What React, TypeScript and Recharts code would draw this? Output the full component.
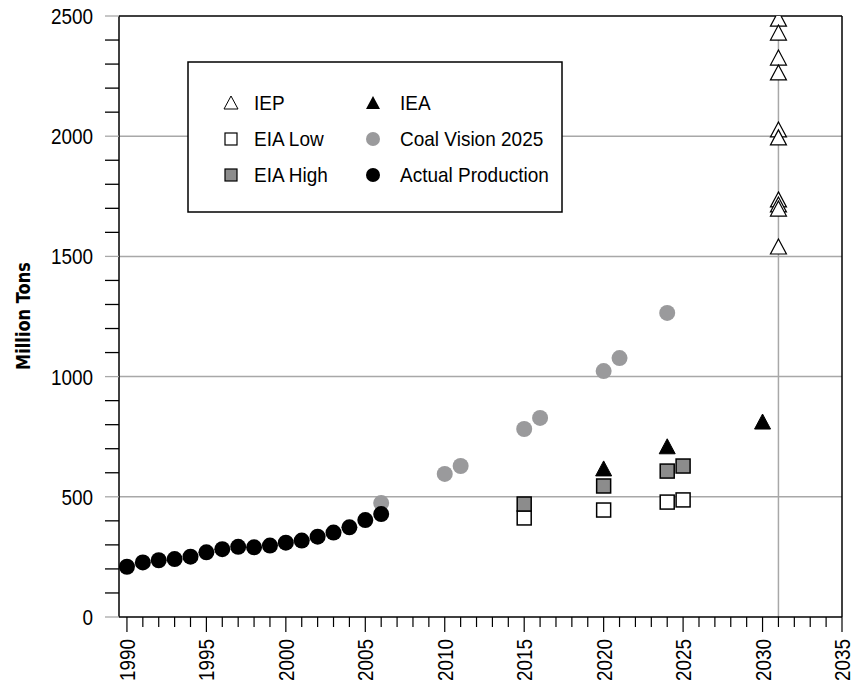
import React from 'react';
import { ScatterChart, Scatter, XAxis, YAxis, ReferenceLine } from 'recharts';

const NUM_FONT = "'Liberation Sans', Arial, sans-serif";
const TITLE_FONT = "'DejaVu Sans', sans-serif";

const iepYears = [2031, 2031, 2031, 2031, 2031, 2031, 2031, 2031, 2031, 2031];
const iepValues = [2487, 2429, 2325, 2263, 2026, 1993, 1735, 1714, 1697, 1539];
const ieaYears = [2020, 2024, 2030];
const ieaValues = [616, 708, 811];
const eiaLowYears = [2015, 2020, 2024, 2025];
const eiaLowValues = [412, 445, 478, 487];
const eiaHighYears = [2015, 2020, 2024, 2025];
const eiaHighValues = [470, 545, 607, 628];
const coalVisionYears = [2006, 2010, 2011, 2015, 2016, 2020, 2021, 2024];
const coalVisionValues = [474, 595, 628, 782, 828, 1023, 1077, 1265];
const actualYears = [1990, 1991, 1992, 1993, 1994, 1995, 1996, 1997, 1998, 1999, 2000, 2001, 2002, 2003, 2004, 2005, 2006];
const actualValues = [209, 227, 236, 241, 251, 269, 282, 292, 290, 297, 309, 318, 334, 351, 373, 403, 428];

const xTicks: number[] = [];
for (let yr = 1990; yr <= 2035; yr++) xTicks.push(yr);
const yTicks: number[] = [];
for (let v = 0; v <= 2500; v += 100) yTicks.push(v);
const gridValues = [500, 1000, 1500, 2000];

const zip = (xs: number[], ys: number[]) => xs.map((x, i) => ({ x, y: ys[i] }));

const GRID = '#a8a8a8';

const OpenTriangle = (p: any) => (
  <path d={`M${p.cx},${p.cy - 8}L${p.cx + 8},${p.cy + 7}L${p.cx - 8},${p.cy + 7}Z`} fill="#fff" stroke="#000" strokeWidth={1.2} />
);
const FilledTriangle = (p: any) => (
  <path d={`M${p.cx},${p.cy - 8}L${p.cx + 8},${p.cy + 7}L${p.cx - 8},${p.cy + 7}Z`} fill="#000" stroke="#000" strokeWidth={1} />
);
const WhiteSquare = (p: any) => (
  <rect x={p.cx - 7} y={p.cy - 7} width={14} height={14} fill="#fff" stroke="#000" strokeWidth={1.5} />
);
const GraySquare = (p: any) => (
  <rect x={p.cx - 7} y={p.cy - 7} width={14} height={14} fill="#8c8c8c" stroke="#000" strokeWidth={1.5} />
);
const GrayCircle = (p: any) => <circle cx={p.cx} cy={p.cy} r={8} fill="#9a9a9c" />;
const BlackCircle = (p: any) => <circle cx={p.cx} cy={p.cy} r={8} fill="#000" />;

const XTick = (props: any) => {
  const { x, y, payload } = props;
  const v = payload.value;
  const major = v % 5 === 0;
  const ty = y + 22;
  return (
    <g>
      <line x1={x} y1={y} x2={x} y2={y + (major ? 15 : 10)} stroke="#000" strokeWidth={1.2} />
      {major && (
        <text x={0} y={0} transform={`translate(${x},${ty}) rotate(-90) scale(0.86,1)`} textAnchor="end"
          dominantBaseline="central" fontFamily={NUM_FONT} fontSize={22} fill="#000">
          {v}
        </text>
      )}
    </g>
  );
};

const YTick = (props: any) => {
  const { x, y, payload } = props;
  const v = payload.value;
  const major = v % 500 === 0;
  return (
    <g>
      <line x1={x - 14} y1={y} x2={x} y2={y} stroke={major ? GRID : '#000'} strokeWidth={1.3} />
      {major && (
        <text x={0} y={0} transform={`translate(${x - 26},${y}) scale(0.86,1)`} textAnchor="end"
          dominantBaseline="central" fontFamily={NUM_FONT} fontSize={22} fill="#000">
          {v}
        </text>
      )}
    </g>
  );
};

const YLabel = () => (
  <text x={0} y={0} transform="translate(23,316) rotate(-90) scale(0.81,1)" textAnchor="middle"
    dominantBaseline="central" fontFamily={TITLE_FONT} fontSize={20} fontWeight="bold" fill="#000">
    Million Tons
  </text>
);

const legendItems = [
  { label: 'IEP', col: 0, row: 0, icon: 'openTri' },
  { label: 'EIA Low', col: 0, row: 1, icon: 'whiteSq' },
  { label: 'EIA High', col: 0, row: 2, icon: 'graySq' },
  { label: 'IEA', col: 1, row: 0, icon: 'fillTri' },
  { label: 'Coal Vision 2025', col: 1, row: 1, icon: 'grayCirc' },
  { label: 'Actual Production', col: 1, row: 2, icon: 'blackCirc' },
];

const LegendIcon = ({ icon, cx, cy }: any) => {
  switch (icon) {
    case 'openTri':
      return <path d={`M${cx},${cy - 7}L${cx + 7},${cy + 6}L${cx - 7},${cy + 6}Z`} fill="#fff" stroke="#000" strokeWidth={1} />;
    case 'fillTri':
      return <path d={`M${cx},${cy - 7}L${cx + 7},${cy + 6}L${cx - 7},${cy + 6}Z`} fill="#000" />;
    case 'whiteSq':
      return <rect x={cx - 6} y={cy - 6} width={12} height={12} fill="#fff" stroke="#000" strokeWidth={1.2} />;
    case 'graySq':
      return <rect x={cx - 6} y={cy - 6} width={12} height={12} fill="#8c8c8c" stroke="#000" strokeWidth={1.2} />;
    case 'grayCirc':
      return <circle cx={cx} cy={cy} r={7} fill="#9a9a9c" />;
    default:
      return <circle cx={cx} cy={cy} r={7} fill="#000" />;
  }
};

const LegendBox = () => {
  const iconX = [231, 373];
  const textX = [254, 400];
  const rowY = [103, 139, 175];
  return (
    <svg width={852} height={684} style={{ position: 'absolute', left: 0, top: 0, pointerEvents: 'none' }}>
      <rect x={188} y={62} width={374} height={150} fill="#fff" stroke="#000" strokeWidth={1.5} />
      {legendItems.map((it) => (
        <g key={it.label}>
          <LegendIcon icon={it.icon} cx={iconX[it.col]} cy={rowY[it.row]} />
          <text x={0} y={0} transform={`translate(${textX[it.col]},${rowY[it.row]}) scale(0.95,1)`}
            dominantBaseline="central" fontFamily={NUM_FONT} fontSize={20} fill="#000">
            {it.label}
          </text>
        </g>
      ))}
    </svg>
  );
};

export default function App() {
  return (
    <div style={{ position: 'absolute', left: 0, top: 0, width: 852, height: 684, background: '#fff' }}>
      <ScatterChart width={852} height={684} margin={{ top: 16, right: 10, bottom: 0, left: 0 }}>
        <XAxis type="number" dataKey="x" domain={[1989.5, 2035]} ticks={xTicks} interval={0} height={67}
          tickSize={0} tickMargin={0} tickLine={false} tick={<XTick />} axisLine={{ stroke: '#000', strokeWidth: 1.5 }}
          allowDataOverflow />
        <YAxis type="number" dataKey="y" domain={[0, 2500]} ticks={yTicks} interval={0} width={119}
          tickSize={0} tickMargin={0} tickLine={false} tick={<YTick />} axisLine={{ stroke: '#000', strokeWidth: 1.5 }}
          label={{ content: () => <YLabel /> }} allowDataOverflow />
        {gridValues.map((v) => (
          <ReferenceLine key={v} y={v} stroke={GRID} strokeWidth={1.5} />
        ))}
        <ReferenceLine x={2031} stroke={GRID} strokeWidth={1.5} />
        <ReferenceLine y={2500} stroke="#000" strokeWidth={1.5} />
        <ReferenceLine x={2035} stroke="#000" strokeWidth={1.5} />
        <Scatter name="Coal Vision 2025" data={zip(coalVisionYears, coalVisionValues)} shape={GrayCircle} isAnimationActive={false} />
        <Scatter name="Actual Production" data={zip(actualYears, actualValues)} shape={BlackCircle} isAnimationActive={false} />
        <Scatter name="EIA Low" data={zip(eiaLowYears, eiaLowValues)} shape={WhiteSquare} isAnimationActive={false} />
        <Scatter name="EIA High" data={zip(eiaHighYears, eiaHighValues)} shape={GraySquare} isAnimationActive={false} />
        <Scatter name="IEA" data={zip(ieaYears, ieaValues)} shape={FilledTriangle} isAnimationActive={false} />
        <Scatter name="IEP" data={zip(iepYears, iepValues)} shape={OpenTriangle} isAnimationActive={false} />
      </ScatterChart>
      <LegendBox />
    </div>
  );
}
